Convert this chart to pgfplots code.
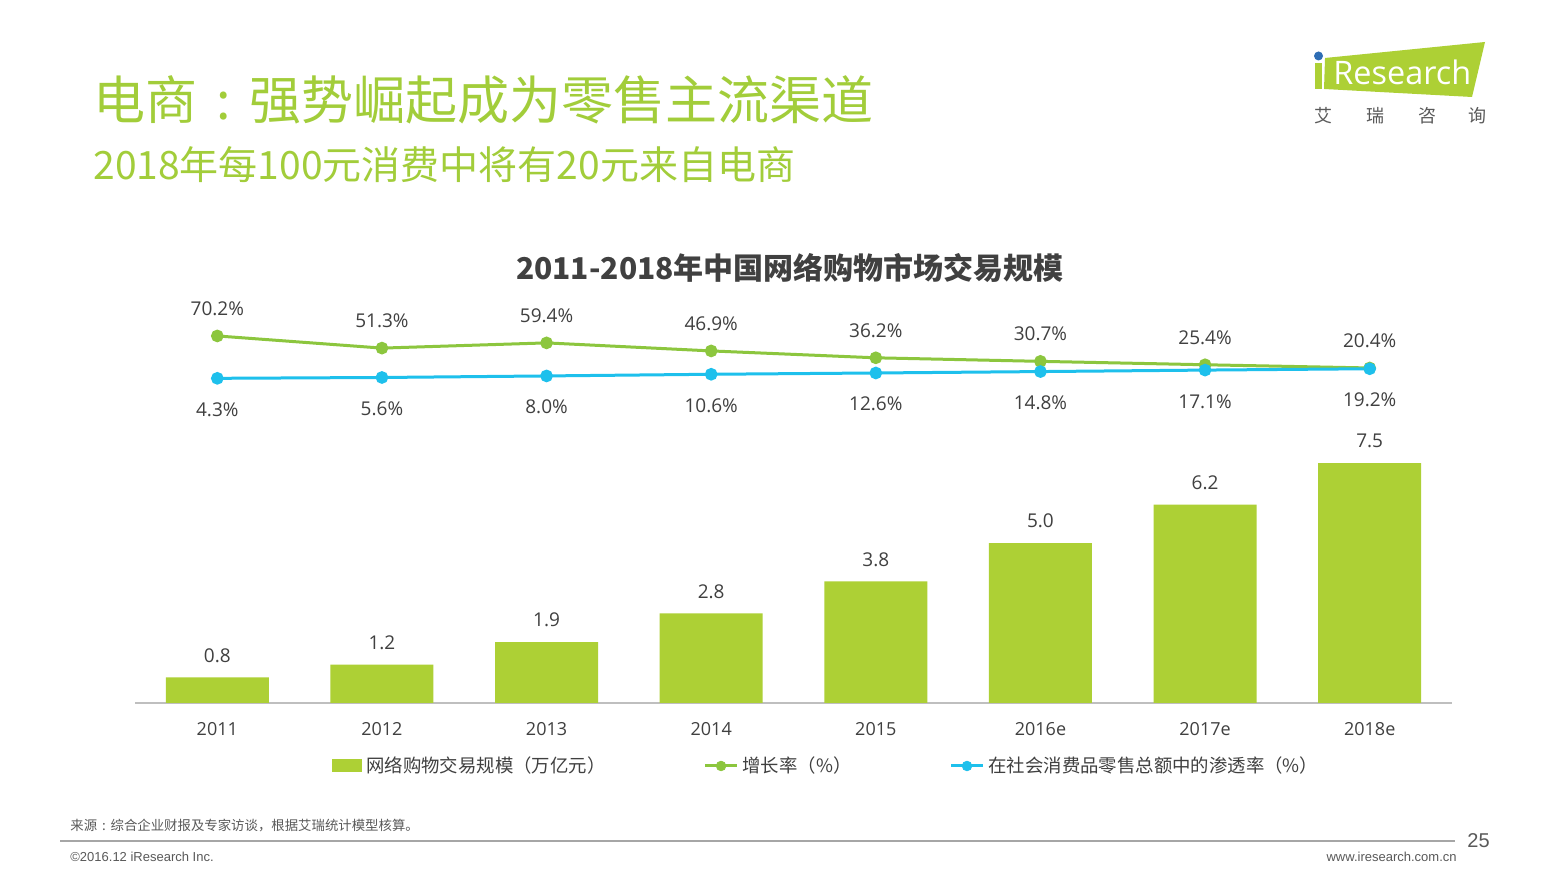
\documentclass[border=0pt]{standalone}
\usepackage{pgfplots}
\pgfplotsset{compat=1.18}
\usepackage{fontspec}
\setmainfont{Open Sans}
\newfontfamily\cjk{Noto Sans CJK SC}
\newfontfamily\arialf{Liberation Sans}
\definecolor{titlegreen}{HTML}{A2CD3A}
\definecolor{bargreen}{HTML}{ADD035}
\definecolor{linegreen}{HTML}{8CC63E}
\definecolor{lineblue}{HTML}{1EC0EC}
\definecolor{txt}{HTML}{404040}
\definecolor{foot}{HTML}{595959}
\definecolor{logoblue}{HTML}{2E6DB4}
\pgfkeys{/pgf/number format/assume math mode=true}
\begin{document}
\begin{tikzpicture}
\begin{scope}[x=0.5pt,y=0.5pt]
\useasboundingbox[fill=white] (0,0) rectangle (1566,881);
% titles
\node[anchor=west,inner sep=0,text=titlegreen,font=\cjk\fontsize{26}{30}\selectfont] at (93,781) {电商\makebox[1em][c]{:}强势崛起成为零售主流渠道};
\node[anchor=west,inner sep=0,text=titlegreen,font=\cjk\fontsize{19.5}{23}\selectfont] at (93,716) {2018年每100元消费中将有20元来自电商};
\node[inner sep=0,text=txt,font=\cjk\bfseries\fontsize{15}{18}\selectfont] at (790,613) {2011-2018年中国网络购物市场交易规模};
% logo
\fill[bargreen] (1325,823) -- (1485,839) -- (1472,784) -- (1324,792) -- cycle;
\fill[bargreen] (1315,818) rectangle (1322,792);
\fill[logoblue] (1318.5,825) circle (4.5);
\node[anchor=west,inner sep=0,text=white,font=\fontsize{16.2}{18}\selectfont] at (1333,809) {Research};
\foreach \xx/\ch in {1323/艾,1375/瑞,1427/咨,1477/询}
  \node[inner sep=0,text=foot,font=\cjk\fontsize{9}{10}\selectfont] at (\xx,765) {\ch};
% footer
\node[anchor=west,inner sep=0,text=foot,font=\cjk\fontsize{6.7}{8}\selectfont] at (70,55) {来源\makebox[1em][c]{:}综合企业财报及专家访谈，根据艾瑞统计模型核算。};
\draw[black!35, line width=0.75pt] (60,40) -- (1455,40);
\node[anchor=west,inner sep=0,text=foot,font=\arialf\fontsize{10}{12}\selectfont] at (1467,40) {25};
\node[anchor=west,inner sep=0,text=foot,font=\arialf\fontsize{6.5}{8}\selectfont] at (70,24) {©2016.12 iResearch Inc.};
\node[anchor=east,inner sep=0,text=foot,font=\arialf\fontsize{6.5}{8}\selectfont] at (1457,24) {www.iresearch.com.cn};
\end{scope}
% bar axis
\begin{axis}[at={(67.5pt,89pt)}, anchor=south west, scale only axis,
  width=658.5pt, height=120pt,
  xmin=-0.5, xmax=7.5, ymin=0, ymax=7.5,
  axis y line=none, axis x line=bottom,
  x axis line style={draw=black!25, line width=0.75pt, -},
  xtick={0,...,7}, xticklabels={2011,2012,2013,2014,2015,2016e,2017e,2018e},
  xtick style={draw=none},
  xticklabel style={font=\fontsize{9}{11}\selectfont, text=txt, yshift=-2pt},
  ybar, bar width=51.5pt, clip=false,
  nodes near coords={\pgfmathprintnumber[fixed,fixed zerofill,precision=1]{\pgfplotspointmeta}},
  nodes near coords style={font=\fontsize{9.5}{11}\selectfont, text=txt, yshift=4pt},
  legend style={at={(0.145,-0.2625)}, anchor=west, draw=none, fill=none,
    legend columns=3, font=\cjk\fontsize{9.2}{10}\selectfont, text=txt,
    /tikz/every even column/.append style={column sep=47pt}},
  legend cell align=left,
]
\addplot[fill=bargreen, draw=none,
  legend image code/.code={\fill[bargreen] (0pt,-3.25pt) rectangle (15pt,3.25pt);}]
  coordinates {(0,0.8) (1,1.2) (2,1.9) (3,2.8) (4,3.8) (5,5.0) (6,6.2) (7,7.5)};
\addlegendentry{网络购物交易规模（万亿元）}
\addlegendimage{legend image code/.code={\draw[linegreen,line width=1.5pt] (0pt,0pt)--(16pt,0pt); \fill[linegreen] (8pt,0pt) circle (2.4pt);}}
\addlegendentry{增长率（\%）}
\addlegendimage{legend image code/.code={\draw[lineblue,line width=1.5pt] (0pt,0pt)--(16pt,0pt); \fill[lineblue] (8pt,0pt) circle (2.4pt);}}
\addlegendentry{在社会消费品零售总额中的渗透率（\%）}
\end{axis}
% line axis
\begin{axis}[at={(67.5pt,249.95pt)}, anchor=south west, scale only axis,
  width=658.5pt, height=25.72pt,
  xmin=-0.5, xmax=7.5, ymin=0, ymax=80,
  hide axis, clip=false]
\addplot[linegreen, line width=1.5pt, mark=*, mark size=2.4pt,
  nodes near coords={\pgfmathprintnumber[fixed,fixed zerofill,precision=1]{\pgfplotspointmeta}\%},
  every node near coord/.append style={anchor=south, yshift=6pt, text=txt, font=\fontsize{9.5}{11}\selectfont}]
  coordinates {(0,70.2) (1,51.3) (2,59.4) (3,46.9) (4,36.2) (5,30.7) (6,25.4) (7,20.4)};
\addplot[lineblue, line width=1.5pt, mark=*, mark size=2.4pt,
  nodes near coords={\pgfmathprintnumber[fixed,fixed zerofill,precision=1]{\pgfplotspointmeta}\%},
  every node near coord/.append style={anchor=north, yshift=-8pt, text=txt, font=\fontsize{9.5}{11}\selectfont}]
  coordinates {(0,4.3) (1,5.6) (2,8.0) (3,10.6) (4,12.6) (5,14.8) (6,17.1) (7,19.2)};
\end{axis}
\end{tikzpicture}
\end{document}
